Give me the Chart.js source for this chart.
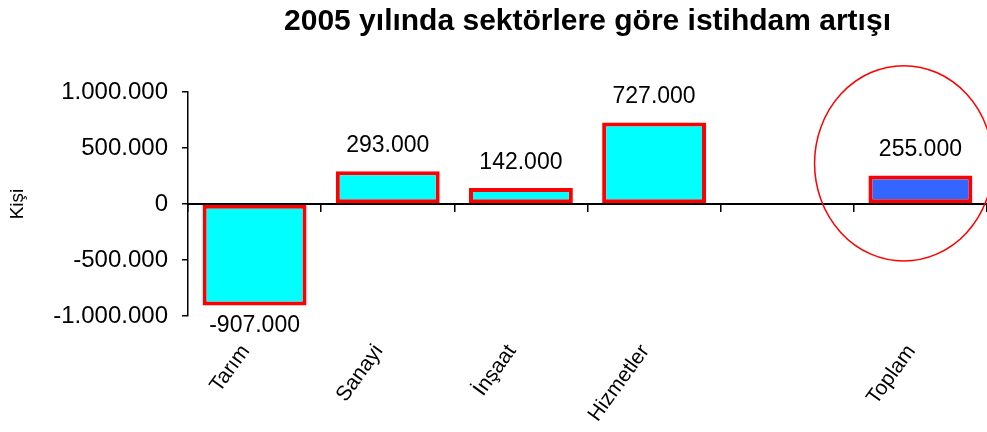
<!DOCTYPE html>
<html>
<head>
<meta charset="utf-8">
<script src="https://cdn.jsdelivr.net/npm/chart.js@4/dist/chart.umd.min.js"></script>
<style>
html,body{margin:0;padding:0;background:#fff;}
canvas{display:block;}
</style>
</head>
<body>
<canvas id="c" width="987" height="432"></canvas>
<script>
// ---- data ----
const categories = ['Tarım', 'Sanayi', 'İnşaat', 'Hizmetler', '', 'Toplam'];
const values = [-907000, 293000, 142000, 727000, null, 255000];
const barColors = ['#00FFFF', '#00FFFF', '#00FFFF', '#00FFFF', '#00FFFF', '#3366FF'];
const yTickValues = [-1000000, -500000, 0, 500000, 1000000];
const titleText = '2005 yılında sektörlere göre istihdam artışı';
const yTitleText = 'Kişi';
// highlight ellipse around the total bar (in category / value units)
const highlight = { index: 5, dx: -0.125, yValue: 363000, rx: 0.67, ry: 872000 };

const FONT = "'Liberation Sans', Arial, sans-serif";

function fmt(v) {
  const s = Math.abs(v).toString().replace(/\B(?=(\d{3})+(?!\d))/g, '.');
  return (v < 0 ? '-' : '') + s;
}

const valueLabels = {
  id: 'valueLabels',
  afterDatasetsDraw(chart) {
    const ctx = chart.ctx;
    const meta = chart.getDatasetMeta(0);
    ctx.save();
    ctx.font = '23px ' + FONT;
    ctx.fillStyle = '#000';
    ctx.textAlign = 'center';
    meta.data.forEach((el, i) => {
      const v = values[i];
      if (v === null || v === undefined) return;
      if (v >= 0) {
        ctx.textBaseline = 'bottom';
        ctx.fillText(fmt(v), el.x, el.y - 14);
      } else {
        ctx.textBaseline = 'top';
        ctx.fillText(fmt(v), el.x, el.y + 9);
      }
    });
    ctx.restore();
  }
};

const ellipse = {
  id: 'ellipse',
  afterDraw(chart) {
    const xs = chart.scales.x, ys = chart.scales.y;
    const cx = xs.getPixelForValue(highlight.index + highlight.dx);
    const rx = xs.getPixelForValue(highlight.index + highlight.dx + highlight.rx) - cx;
    const cy = ys.getPixelForValue(highlight.yValue);
    const ry = ys.getPixelForValue(highlight.yValue - highlight.ry) - cy;
    const ctx = chart.ctx;
    ctx.save();
    ctx.strokeStyle = '#FF0000';
    ctx.lineWidth = 1.5;
    ctx.beginPath();
    ctx.ellipse(cx, cy, Math.abs(rx), Math.abs(ry), 0, 0, Math.PI * 2);
    ctx.stroke();
    ctx.restore();
  }
};

new Chart(document.getElementById('c'), {
  type: 'bar',
  data: {
    labels: categories,
    datasets: [{
      data: values,
      xAxisID: 'x',
      yAxisID: 'y',
      backgroundColor: barColors,
      borderColor: '#FF0000',
      borderWidth: 4,
      borderSkipped: false,
      barPercentage: 0.78,
      categoryPercentage: 1.0
    }]
  },
  options: {
    responsive: false,
    devicePixelRatio: 1,
    animation: false,
    layout: { padding: { left: 0, right: 0, top: 0, bottom: 0 } },
    plugins: {
      legend: { display: false },
      tooltip: { enabled: false },
      title: {
        display: true,
        text: titleText,
        fullSize: false,
        color: '#000',
        font: { family: FONT, size: 30, weight: 'bold' },
        padding: { top: 4, bottom: 52 }
      }
    },
    scales: {
      x: {
        type: 'category',
        position: 'bottom',
        offset: true,
        grid: { display: false },
        border: { display: false },
        ticks: {
          color: '#000',
          font: { family: FONT, size: 21 },
          minRotation: 54,
          maxRotation: 54,
          padding: 16,
          labelOffset: -9,
          autoSkip: false
        },
        afterFit(s) { s.height = 116; }
      },
      x2: {
        type: 'category',
        position: { y: 0 },
        offset: true,
        grid: { drawOnChartArea: false, drawTicks: true, tickLength: 7, color: '#000', lineWidth: 1.5 },
        border: { display: true, color: '#000', width: 2 },
        ticks: { display: false }
      },
      y: {
        min: -1000000,
        max: 1000000,
        afterBuildTicks(s) { s.ticks = yTickValues.map(v => ({ value: v })); },
        grid: { drawOnChartArea: false, drawTicks: true, tickLength: 6, color: '#000', lineWidth: 1.5 },
        border: { display: true, color: '#000', width: 1.5 },
        ticks: {
          color: '#000',
          font: { family: FONT, size: 24 },
          padding: 14,
          callback: (v) => fmt(v)
        },
        title: {
          display: true,
          text: yTitleText,
          color: '#000',
          font: { family: FONT, size: 19 },
          padding: { top: 6, bottom: 0 }
        },
        afterFit(s) { s.width = 188; }
      }
    }
  },
  plugins: [valueLabels, ellipse]
});
</script>
</body>
</html>
